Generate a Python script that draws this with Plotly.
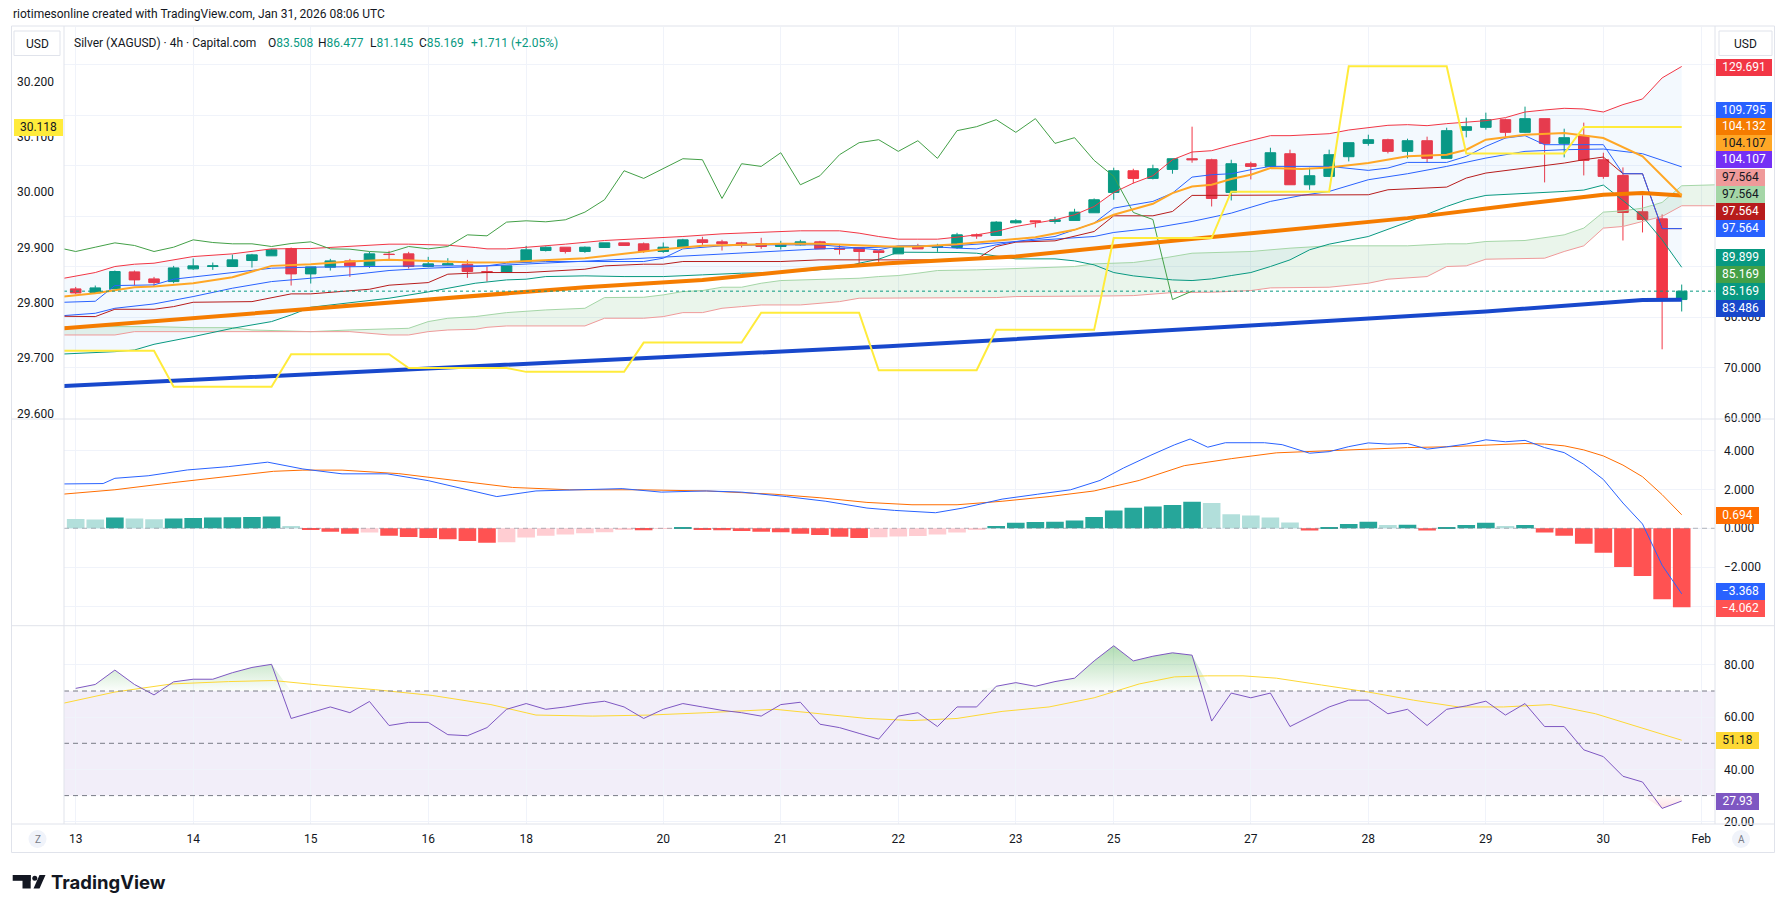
import plotly.graph_objects as go

# ======================= DATA =======================
date_tick_idx = [0, 6, 12, 18, 23, 30, 36, 42, 48, 53, 60, 66, 72, 78, 83]
date_tick_txt = ["13", "14", "15", "16", "18", "20", "21", "22", "23", "25", "27", "28", "29", "30", "Feb"]

bar_idx = list(range(83))
open_ = [85.62, 84.82, 85.62, 88.99, 87.60, 87.07, 89.59, 90.05, 90.05, 91.24,
         92.17, 93.62, 88.59, 89.92, 91.17, 90.18, 92.50, 92.56, 90.05, 90.38,
         90.51, 89.06, 88.99, 90.97, 93.22, 93.88, 93.03, 93.82, 94.74, 94.55,
         93.03, 93.82, 95.34, 94.94, 94.74, 94.61, 94.02, 94.35, 94.94, 93.69,
         93.82, 93.16, 92.56, 94.02, 93.82, 93.82, 96.33, 96.20, 98.71, 99.11,
         98.98, 99.18, 100.70, 104.73, 109.03, 107.51, 109.30, 111.41, 111.21, 104.73,
         110.42, 109.89, 112.40, 106.25, 107.91, 111.81, 114.45, 115.18, 112.87, 114.98,
         111.48, 117.03, 117.63, 119.15, 116.64, 119.35, 114.45, 115.98, 111.21, 108.10,
         100.90, 99.51, 83.508]
high = [86.01, 86.28, 89.26, 89.26, 88.00, 90.18, 91.64, 90.84, 92.43, 92.56,
        93.55, 93.82, 89.98, 91.57, 91.57, 92.96, 93.16, 92.96, 91.97, 91.70,
        91.37, 90.05, 90.18, 94.15, 94.02, 93.88, 94.02, 94.74, 94.74, 94.81,
        94.81, 95.54, 95.94, 95.34, 94.94, 95.74, 95.14, 95.34, 95.14, 94.35,
        93.82, 93.16, 94.15, 94.55, 94.55, 96.73, 96.60, 99.04, 99.44, 99.11,
        99.90, 101.49, 103.54, 109.63, 109.43, 110.22, 111.41, 117.76, 111.41, 111.21,
        110.82, 113.59, 113.20, 109.63, 113.20, 114.59, 116.17, 115.38, 115.38, 115.78,
        117.56, 119.55, 120.54, 119.35, 121.73, 119.35, 117.36, 118.56, 112.60, 109.69,
        104.14, 100.37, 86.477]
low = [84.56, 84.82, 85.62, 86.35, 86.01, 86.74, 89.39, 89.39, 90.05, 89.85,
       92.17, 86.28, 86.68, 89.26, 88.00, 89.78, 91.37, 89.65, 89.92, 90.38,
       87.80, 87.07, 88.86, 90.97, 93.03, 92.63, 92.76, 93.82, 94.22, 92.76,
       92.76, 93.82, 94.35, 93.22, 93.82, 93.55, 93.42, 94.22, 93.55, 92.43,
       90.38, 90.97, 92.56, 93.55, 92.96, 93.55, 95.54, 96.20, 98.58, 97.79,
       98.51, 99.18, 100.70, 103.28, 106.52, 107.31, 108.44, 110.62, 101.95, 103.14,
       107.31, 109.89, 106.25, 105.26, 107.77, 110.88, 113.99, 112.47, 111.48, 110.62,
       111.48, 115.65, 117.17, 115.45, 116.50, 106.72, 111.68, 108.10, 107.44, 95.21,
       96.80, 73.65, 81.145]
close = [84.82, 85.82, 89.06, 87.40, 86.87, 89.78, 90.18, 90.18, 91.37, 92.36,
         93.36, 88.59, 89.98, 91.17, 90.18, 92.56, 92.43, 90.05, 90.58, 90.58,
         89.06, 88.93, 90.18, 93.36, 93.88, 93.03, 93.88, 94.74, 94.22, 93.03,
         93.88, 95.34, 94.81, 94.55, 94.55, 94.02, 94.61, 94.94, 93.55, 93.49,
         93.03, 92.83, 94.02, 93.55, 94.02, 96.33, 96.13, 98.85, 99.11, 98.91,
         99.31, 100.83, 103.28, 109.03, 107.51, 109.43, 111.41, 111.21, 103.54, 110.42,
         109.89, 112.60, 106.25, 108.04, 112.21, 114.59, 115.18, 112.87, 114.98, 111.48,
         116.97, 117.76, 119.15, 116.64, 119.35, 114.45, 115.58, 111.08, 107.91, 100.76,
         99.37, 83.51, 85.169]

# Bollinger bands
bbu_x = [-0.6, 1, 2, 3, 4, 6, 8, 10, 12, 14, 16, 17, 19, 20.4,
         21, 22, 23, 25, 27, 29, 31, 33, 35, 37, 39, 40, 41,
         42, 43, 44, 45, 46, 47, 48, 49, 50, 51, 52, 53, 54, 55, 56, 57, 58, 59, 60, 61, 62,
         63, 64, 65, 66, 67, 68, 69, 70, 71, 72, 73, 74, 75, 76, 77, 78, 79, 80, 81, 82]
bbu_y = [87.73, 88.86, 90.05, 90.51, 90.71, 92.03, 92.56, 93.55, 93.62, 94.02, 94.48, 94.48, 94.28, 93.82,
         93.55, 93.55, 93.82, 94.48, 95.21, 95.54, 96.00, 96.53, 96.86, 97.13, 97.13, 96.66, 96.00,
         95.47, 95.47, 95.47, 95.87, 96.33, 96.99, 97.99, 98.65, 99.31, 100.30, 101.95, 104.73, 106.58,
         108.04, 111.21, 112.74, 113.00, 114.06, 115.05, 115.98, 115.98,
         116.11, 116.37, 117.10, 117.56, 118.03, 118.16, 117.96, 118.36, 118.62, 118.95, 119.55, 120.67,
         121.07, 121.40, 121.27, 120.67, 122.13, 123.25, 127.42, 129.69]
bbl_x = [-0.6, 2, 3, 4, 6, 8, 10, 11, 12, 14, 16, 18, 20.4,
         22, 23, 24, 26, 28, 30, 32, 34, 36, 38, 39, 40, 41,
         42, 43, 44, 45, 46, 47, 48, 50, 51, 52, 53, 54, 55, 56, 57, 58, 59, 60, 61, 62,
         63, 64, 66, 68, 70, 71, 72, 74, 76, 77, 78, 79, 80, 81, 82]
bbl_y = [72.72, 73.18, 73.51, 74.64, 76.16, 77.81, 79.14, 80.46, 81.98, 82.91, 83.77, 85.02, 86.74,
         87.40, 87.54, 88.06, 88.20, 88.06, 88.06, 88.40, 88.73, 88.86, 89.39, 89.72, 90.71, 91.50,
         92.89, 92.89, 92.83, 92.83, 92.69, 92.17, 91.57, 91.57, 91.17, 90.38, 88.86, 88.20, 87.73,
         87.40, 87.27, 87.60, 88.26, 88.86, 90.05, 91.37,
         93.36, 94.48, 96.00, 98.85, 101.95, 103.28, 104.14, 104.47, 104.93, 105.20, 106.19, 103.14,
         99.97, 95.34, 89.90]
bbm_x = [-0.6, 1, 2, 4, 6, 8, 10, 12, 14, 16, 18, 20.4,
         22, 24, 26, 28, 30, 32, 34, 36, 38, 40,
         41.5, 43, 45, 46, 48, 50, 52, 53, 55, 57, 59, 61, 62.6,
         64, 66, 68, 70, 72, 74, 76, 78, 80, 82]
bbm_y = [80.33, 80.79, 81.78, 82.64, 84.10, 85.75, 87.07, 87.73, 88.40, 89.26, 89.72, 90.05,
         90.38, 90.84, 91.11, 91.50, 91.90, 92.36, 92.69, 93.16, 93.55, 93.75,
         94.02, 94.15, 94.22, 94.48, 95.01, 95.47, 96.00, 96.80, 97.66, 98.98, 100.63, 102.95, 104.14,
         104.93, 107.25, 108.44, 109.89, 111.54, 112.87, 113.20, 113.33, 112.40, 109.80]

# Ichimoku
tenkan_x = [-0.6, 1, 2, 4, 5, 8, 10, 12, 14, 16, 18,
            21, 22, 24, 29, 30, 31, 33, 35, 38, 39, 40, 41,
            42, 43, 45, 46, 47, 48, 50, 52, 53, 55, 56, 57, 58, 59, 60, 61,
            64, 65, 66, 67, 68, 70, 71, 72, 73, 74, 75, 78, 79, 80, 81, 82]
tenkan_y = [82.97, 83.17, 86.28, 86.41, 87.54, 88.86, 89.72, 89.92, 90.05, 90.05, 90.18,
            90.18, 90.71, 91.04, 91.04, 91.70, 93.55, 94.15, 94.35, 94.35, 94.02, 93.55, 93.36,
            94.15, 94.15, 93.69, 93.55, 94.35, 95.01, 96.00, 98.65, 101.62, 102.95, 104.60, 107.77,
            108.24, 108.44, 109.23, 109.89,
            109.89, 109.56, 109.10, 109.56, 110.68, 110.68, 111.88, 113.86, 115.51, 115.98, 114.19,
            114.19, 108.44, 108.44, 97.564, 97.564]
kijun_x = [-0.6, 1, 2, 4, 5, 6, 9, 11, 12, 15, 16, 18, 19,
           21, 23, 25, 26, 27, 29, 30, 31, 36, 38,
           45, 46, 47, 48, 50, 52, 53, 55, 56, 57,
           66, 67, 70, 71, 72, 74, 76, 77, 78, 79, 80, 81, 82]
kijun_y = [80.19, 80.13, 81.58, 81.58, 82.11, 82.97, 83.10, 84.63, 84.63, 85.55, 86.35, 86.87, 88.53,
           88.86, 88.86, 89.39, 89.52, 90.18, 90.51, 90.51, 91.04, 91.04, 91.37,
           91.37, 91.50, 94.02, 94.88, 95.14, 96.99, 100.10, 100.10, 100.96, 104.14,
           104.27, 105.26, 105.79, 107.58, 108.57, 109.56, 110.55, 111.21, 111.74, 108.44, 108.44,
           97.564, 97.564]
spanA_x = [-0.6, 4, 6, 8, 9, 12, 14, 17, 18, 19, 20.4,
           21, 22, 24, 25, 26, 27, 29, 30, 31, 32, 33, 34, 35, 36, 38, 40, 41,
           42, 43, 44, 46, 47, 48, 50, 51, 52, 54, 55, 56, 57, 60, 62,
           64, 68, 70, 71, 72, 74, 76, 77, 78, 79, 80, 81, 82, 83.8]
spanA_y = [78.14, 78.14, 77.94, 77.94, 77.48, 77.15, 77.48, 77.81, 79.14, 79.80, 80.13,
           80.46, 80.92, 81.45, 81.58, 81.78, 83.90, 83.96, 84.43, 85.09, 85.29, 85.95, 85.95, 86.74,
           87.27, 87.54, 87.73, 88.06,
           88.26, 88.73, 89.26, 89.39, 89.52, 89.72, 89.92, 90.05, 90.58, 90.84, 91.37, 92.03, 92.69,
           93.03, 93.69,
           94.15, 94.15, 94.55, 94.55, 95.01, 95.21, 96.33, 97.66, 100.83, 101.09, 101.62, 102.75,
           106.05, 106.25]
spanB_x = [-0.6, 2, 3, 9, 12, 14, 16, 17, 18, 19, 20.4,
           21, 22, 26, 27, 29, 30, 31, 32, 33, 34, 35, 37, 38, 39, 40,
           47, 48, 51, 52, 53, 54, 55, 56, 58, 59, 60, 61,
           64, 66, 67, 69, 70, 71, 72, 75, 76, 77, 78, 79, 80, 81, 82, 83.8]
spanB_y = [76.49, 76.49, 77.15, 77.15, 77.02, 77.15, 76.49, 76.49, 77.15, 77.48, 77.61,
           78.01, 78.28, 78.28, 79.80, 79.80, 80.13, 80.92, 80.92, 81.78, 82.11, 82.44, 82.44, 82.77,
           83.10, 83.77,
           83.90, 84.10, 84.10, 84.23, 84.23, 84.29, 84.56, 84.89, 84.96, 85.09, 85.29, 85.82,
           85.95, 86.74, 87.54, 88.06, 90.05, 90.18, 91.50, 91.70, 93.03, 94.15, 97.66, 97.99, 98.98,
           99.97, 102.09, 102.09]
lag_shift = 25

# Moving averages
ma_thick_or_x = [-0.6, 6, 12, 20.3, 26, 32, 38, 41.5, 48, 53, 59, 62.6, 68, 74, 78, 80, 82]
ma_thick_or_y = [77.81, 79.80, 81.78, 84.23, 85.95, 87.40, 89.72, 90.71, 92.03, 94.02, 96.33, 97.52,
                 99.64, 102.48, 104.27, 104.60, 104.13]
ma_thick_bl_x = [-0.6, 20.3, 41.5, 62.6, 72, 80, 82]
ma_thick_bl_y = [66.37, 70.27, 74.24, 78.94, 81.12, 83.43, 83.49]
ma_thin_or_x = [-0.6, 1, 3, 4, 6, 8, 10, 12, 14, 16, 18, 20.4,
                22, 24, 26, 28, 30, 32, 34, 36, 38, 40,
                41.5, 43, 45, 47, 49, 51, 52, 53, 55, 56, 57, 58, 59, 60, 61, 62.6,
                64, 66, 68, 70, 71, 72, 74, 76, 77, 78, 80, 82]
ma_thin_or_y = [84.10, 84.76, 85.95, 86.08, 86.74, 87.93, 90.18, 90.51, 91.04, 91.37, 91.17, 90.84,
                90.91, 91.37, 91.70, 92.56, 93.49, 94.15, 94.41, 94.55, 94.55, 94.28,
                94.02, 94.02, 94.48, 95.14, 95.87, 97.32, 98.65, 100.30, 102.48, 104.60, 105.92,
                106.25, 107.38, 108.24, 109.56, 109.36,
                109.69, 110.55, 111.88, 112.21, 113.20, 115.18, 116.17, 116.50, 115.98, 115.51,
                111.88, 104.107]

# Yellow step series on the left scale (one level per session)
yellow_levels = [29.713, 29.648, 29.707, 29.682, 29.675, 29.728, 29.782, 29.678, 29.751,
                 29.917, 30.001, 30.228, 30.070, 30.118]
yellow_first_bar = [-1, 5, 11, 17, 23, 29, 35, 41, 47, 53, 59, 65, 71, 77]

# MACD
macd_x = [-0.7, 1.4, 2.0, 3.7, 5.7, 7.8, 9.8, 11.6, 13.6, 15.9,
          18.0, 20.0, 21.5, 23.5, 25.8, 27.9, 29.9, 32.2, 34.0, 36.3,
          38.3, 40.4, 41.8, 43.9, 45.3, 47.3, 49.1, 50.8, 52.3, 53.5,
          54.9, 56.1, 56.9, 57.8, 58.7, 60.7, 61.6, 63, 64, 65,
          66, 67, 68, 69, 70, 71, 72, 73, 74, 75,
          76, 77, 78, 79, 80, 81, 82]
macd_y = [2.28, 2.30, 2.57, 2.70, 3.00, 3.17, 3.40, 3.05, 2.80, 2.80,
          2.45, 1.98, 1.63, 1.92, 1.98, 2.04, 1.86, 1.92, 1.86, 1.63,
          1.39, 1.04, 0.92, 0.80, 1.04, 1.50, 1.75, 1.98, 2.46, 3.10,
          3.76, 4.29, 4.59, 4.17, 4.40, 4.40, 4.30, 3.86, 3.94, 4.20,
          4.39, 4.33, 4.36, 4.07, 4.19, 4.33, 4.55, 4.45, 4.52, 4.15,
          3.89, 3.29, 2.51, 1.30, 0.22, -1.90, -3.368]
signal_x = [-0.7, 2.0, 4.9, 7.8, 10.1, 11.6, 13.6, 16.5, 19.4, 22.3,
            25.2, 28.7, 32.2, 35.7, 38.0, 40.4, 42.7, 45.0, 47.3, 49.7,
            52.0, 54.3, 56.6, 59.0, 61.3, 63, 65, 66, 68, 70,
            72, 74, 75, 76, 77, 78, 79, 80, 81, 82]
signal_y = [1.75, 1.98, 2.34, 2.69, 2.93, 2.99, 2.99, 2.81, 2.46, 2.10,
            1.98, 1.98, 1.92, 1.75, 1.57, 1.33, 1.21, 1.21, 1.39, 1.63,
            1.92, 2.46, 3.22, 3.58, 3.88, 3.95, 4.01, 4.07, 4.15, 4.19,
            4.29, 4.36, 4.33, 4.24, 4.03, 3.72, 3.25, 2.65, 1.73, 0.694]
hist_before_first = 0.52
hist = [0.48, 0.45, 0.55, 0.50, 0.46, 0.50, 0.53, 0.55, 0.57, 0.58,
        0.60, 0.12, -0.08, -0.18, -0.28, -0.22, -0.38, -0.45, -0.50, -0.56,
        -0.65, -0.75, -0.72, -0.48, -0.38, -0.32, -0.26, -0.20, -0.06, -0.10,
        -0.03, 0.04, -0.04, -0.10, -0.14, -0.18, -0.20, -0.28, -0.34, -0.44,
        -0.50, -0.46, -0.42, -0.40, -0.32, -0.22, -0.08, 0.12, 0.28, 0.32,
        0.34, 0.40, 0.58, 0.92, 1.05, 1.12, 1.20, 1.36, 1.30, 0.72,
        0.66, 0.55, 0.30, -0.12, 0.03, 0.22, 0.33, 0.17, 0.18, -0.12,
        0.07, 0.17, 0.28, 0.12, 0.17, -0.22, -0.38, -0.80, -1.26, -1.99,
        -2.46, -3.65, -4.062]

# RSI
rsi = [71.0, 72.5, 78.0, 72.5, 68.5, 73.5, 74.5, 74.5, 77.0, 79.0,
       80.2, 59.5, 61.7, 63.9, 61.7, 66.0, 56.8, 58.0, 58.0, 53.3,
       52.9, 56.0, 63.0, 65.2, 63.0, 63.9, 65.2, 66.1, 63.9, 59.5,
       63.0, 65.2, 63.9, 62.6, 61.7, 60.4, 64.8, 65.7, 57.3, 56.0,
       53.8, 51.6, 60.4, 61.7, 56.4, 63.9, 63.9, 71.8, 73.2, 71.8,
       73.6, 74.9, 81.5, 87.3, 81.5, 83.3, 84.6, 83.7, 58.5, 69.2,
       67.4, 69.2, 56.4, 60.0, 63.9, 66.5, 66.5, 61.3, 63.0, 56.8,
       63.0, 64.3, 66.1, 60.8, 65.2, 56.4, 56.4, 47.5, 44.9, 37.4,
       35.2, 25.1, 27.93]
rsi_ma_x = [-0.7, 2.0, 4.9, 7.8, 10.1, 12.4, 15.3, 18.2, 21.2, 23.5,
            26.4, 29.3, 32.2, 35.7, 38.0, 40.4, 42.7, 45.0, 47.3, 49.7,
            52.0, 54.3, 56.1, 57.8, 59.6, 61.3, 63.6, 66.0, 68.3, 70.6,
            72.9, 75.3, 77.6, 79.9, 82.0]
rsi_ma_y = [65.2, 69.6, 72.7, 73.6, 74.0, 72.3, 70.5, 68.3, 64.8, 60.8,
            60.4, 60.8, 61.7, 63.0, 61.3, 59.5, 58.7, 59.5, 62.2, 63.9,
            67.4, 72.7, 75.4, 75.8, 75.8, 74.9, 72.3, 69.6, 66.5, 63.9,
            63.9, 64.8, 61.3, 56.0, 51.18]

# price-scale ticks; labels that the value tags cover in the reference are left blank
main_ticks = [60, 70, 80, 90, 100, 110, 120, 130]
main_tick_txt = ["60.000", "70.000", "80.000", "", "", "", "", ""]
left_ticks = [29.6, 29.7, 29.8, 29.9, 30.0, 30.1, 30.2]
macd_ticks = [-4, -2, 0, 2, 4]
macd_tick_txt = ["", "\u22122.000", "0.000", "2.000", "4.000"]
rsi_ticks = [20, 40, 60, 80]

# value tags on the right price scales: (text, background, text colour, centre y px, width)
main_tags = [("129.691", "#f23645", "#ffffff", 67.5, 56),
             ("109.795", "#2962ff", "#ffffff", 110.0, 56),
             ("104.132", "#f57c00", "#ffffff", 126.7, 56),
             ("104.107", "#ffa726", "#131722", 143.3, 56),
             ("104.107", "#7430f5", "#ffffff", 160.0, 56),
             ("97.564", "#ef9a9a", "#131722", 177.7, 49),
             ("97.564", "#a5d6a7", "#131722", 194.3, 49),
             ("97.564", "#b71c1c", "#ffffff", 211.7, 49),
             ("97.564", "#2962ff", "#ffffff", 228.3, 49),
             ("89.899", "#089981", "#ffffff", 257.5, 49),
             ("85.169", "#43a047", "#ffffff", 274.0, 49),
             ("85.169", "#089981", "#ffffff", 291.0, 49),
             ("83.486", "#1848cc", "#ffffff", 308.0, 49)]
macd_tags = [("0.694", "#ff6d00", "#ffffff", 515.7, 43),
             ("\u22123.368", "#2962ff", "#ffffff", 591.7, 49),
             ("\u22124.062", "#ff5252", "#ffffff", 608.3, 49)]
rsi_tags = [("51.18", "#fdd835", "#131722", 740.7, 43),
            ("27.93", "#7e57c2", "#ffffff", 801.7, 43)]
last_price = 85.169

# ======================= LAYOUT GEOMETRY =======================
FONT = "Roboto, Arial, sans-serif"
TXT = "#131722"
GRID = "#f0f3fa"
BORDER = "#e0e3eb"
W, H = 1787, 913
PL, PR, PT, PB = 64, 1715, 27, 824
MAIN_BOTTOM, MACD_BOTTOM = 419, 625.7


def px(x):
    return (x - PL) / (PR - PL)


def py(y):
    return (PB - y) / (PB - PT)


X_RANGE = [-0.597, 83.70]
MAIN_RANGE = [59.84, 137.51]
LEFT_RANGE = [29.5897, 30.299]
MACD_RANGE = [-5.01, 5.62]
RSI_RANGE = [19.14, 94.97]

fig = go.Figure()


def line(x, y, color, width=1, xa="x", ya="y", dash=None):
    fig.add_trace(go.Scatter(x=x, y=y, mode="lines", xaxis=xa, yaxis=ya, hoverinfo="skip",
                             line=dict(color=color, width=width, dash=dash)))


# ---- main pane ----
fig.add_trace(go.Scatter(x=bbu_x + bbl_x[::-1], y=bbu_y + bbl_y[::-1], fill="toself",
                         fillcolor="rgba(33,150,243,0.055)", line=dict(width=0), mode="lines",
                         hoverinfo="skip"))
fig.add_trace(go.Scatter(x=spanA_x + spanB_x[::-1], y=spanA_y + spanB_y[::-1], fill="toself",
                         fillcolor="rgba(67,160,71,0.11)", line=dict(width=0), mode="lines",
                         hoverinfo="skip"))
line(spanA_x, spanA_y, "#a5d6a7", 1)
line(spanB_x, spanB_y, "#ef9a9a", 1)
line(bbu_x, bbu_y, "#f23645", 1)
line(bbl_x, bbl_y, "#089981", 1)
line(bbm_x, bbm_y, "#2962ff", 1)
line(kijun_x, kijun_y, "#b71c1c", 1)
line(tenkan_x, tenkan_y, "#2962ff", 1)
lag_x = [i - lag_shift for i in range(lag_shift - 1, len(close))]
lag_y = close[lag_shift - 1:]
line(lag_x, lag_y, "#43a047", 1)
line(ma_thick_bl_x, ma_thick_bl_y, "#1848cc", 4)
line(ma_thick_or_x, ma_thick_or_y, "#f57c00", 4)
line(ma_thin_or_x, ma_thin_or_y, "#ffa726", 2)

fig.add_trace(go.Candlestick(
    x=bar_idx, open=open_, high=high, low=low, close=close, whiskerwidth=0,
    increasing=dict(line=dict(color="#089981", width=1), fillcolor="#089981"),
    decreasing=dict(line=dict(color="#f23645", width=1), fillcolor="#f23645"),
    hoverinfo="skip", xaxis="x", yaxis="y"))

yel_x, yel_y = [], []
for b in range(-1, len(close)):
    lvl = None
    for s, v in zip(yellow_first_bar, yellow_levels):
        if b >= s:
            lvl = v
    yel_x.append(b)
    yel_y.append(lvl)
line(yel_x, yel_y, "#ffeb3b", 2, "x", "y4")

# ---- MACD pane ----
hist_colors = []
prev = hist_before_first
for h in hist:
    if h >= 0:
        hist_colors.append("#26a69a" if h > prev else "#b2dfdb")
    else:
        hist_colors.append("#ff5252" if h < prev else "#ffcdd2")
    prev = h
fig.add_trace(go.Bar(x=bar_idx, y=hist, marker=dict(color=hist_colors, line=dict(width=0)),
                     width=0.9, xaxis="x2", yaxis="y2", hoverinfo="skip"))
line(signal_x, signal_y, "#ff6d00", 1, "x2", "y2")
line(macd_x, macd_y, "#2962ff", 1, "x2", "y2")

# ---- RSI pane ----
fig.add_trace(go.Scatter(x=bar_idx, y=[70] * len(rsi), mode="lines", line=dict(width=0),
                         xaxis="x3", yaxis="y3", hoverinfo="skip"))
fig.add_trace(go.Scatter(x=bar_idx, y=[max(v, 70) for v in rsi], mode="lines", line=dict(width=0),
                         fill="tonexty", xaxis="x3", yaxis="y3", hoverinfo="skip",
                         fillgradient=dict(type="vertical", start=70, stop=92,
                                           colorscale=[[0, "rgba(76,175,80,0.02)"],
                                                       [1, "rgba(76,175,80,0.55)"]])))
fig.add_trace(go.Scatter(x=bar_idx, y=[30] * len(rsi), mode="lines", line=dict(width=0),
                         xaxis="x3", yaxis="y3", hoverinfo="skip"))
fig.add_trace(go.Scatter(x=bar_idx, y=[min(v, 30) for v in rsi], mode="lines", line=dict(width=0),
                         fill="tonexty", xaxis="x3", yaxis="y3", hoverinfo="skip",
                         fillgradient=dict(type="vertical", start=10, stop=30,
                                           colorscale=[[0, "rgba(242,54,69,0.55)"],
                                                       [1, "rgba(242,54,69,0.02)"]])))
line(rsi_ma_x, rsi_ma_y, "#fdd835", 1, "x3", "y3")
line(bar_idx, rsi, "#7e57c2", 1, "x3", "y3")

# ======================= AXES =======================
common_x = dict(range=X_RANGE, tickvals=date_tick_idx, showgrid=True, gridcolor=GRID,
                zeroline=False, showline=False, ticks="", fixedrange=True)
tickfont = dict(family=FONT, size=12, color=TXT)


def yax(dom, rng, vals, texts, **kw):
    d = dict(domain=dom, range=rng, side="right", tickvals=vals, ticktext=texts, showgrid=True,
             gridcolor=GRID, zeroline=False, showline=False, ticks="", tickfont=tickfont,
             ticklabelstandoff=8, fixedrange=True)
    d.update(kw)
    return d


fig.update_layout(
    width=W, height=H, margin=dict(l=PL, r=W - PR, t=PT, b=H - PB, pad=0),
    paper_bgcolor="#ffffff", plot_bgcolor="#ffffff", showlegend=False, boxgap=0.23,
    font=dict(family=FONT, color=TXT, size=12), bargap=0.1,
    xaxis=dict(**common_x, anchor="y", showticklabels=False, rangeslider=dict(visible=False)),
    xaxis2=dict(**common_x, anchor="y2", showticklabels=False),
    xaxis3=dict(**common_x, anchor="y3", showticklabels=True, ticktext=date_tick_txt,
                tickfont=tickfont, ticklabelstandoff=6),
    yaxis=yax([py(MAIN_BOTTOM), 1], MAIN_RANGE, main_ticks, main_tick_txt, anchor="x"),
    yaxis4=dict(overlaying="y", side="left", anchor="x", range=LEFT_RANGE, tickvals=left_ticks,
                ticktext=[f"{v:.3f}" for v in left_ticks], showgrid=False, zeroline=False,
                ticks="", tickfont=tickfont, ticklabelstandoff=9, fixedrange=True),
    yaxis2=yax([py(MACD_BOTTOM), py(MAIN_BOTTOM)], MACD_RANGE, macd_ticks, macd_tick_txt,
               anchor="x2"),
    yaxis3=yax([0, py(MACD_BOTTOM)], RSI_RANGE, rsi_ticks, [f"{v:.2f}" for v in rsi_ticks],
               anchor="x3"),
)

# ======================= SHAPES =======================
shapes = []


def seg(x0, y0, x1, y1, color=BORDER, width=1):
    shapes.append(dict(type="line", xref="paper", yref="paper", x0=px(x0), y0=py(y0),
                       x1=px(x1), y1=py(y1), line=dict(color=color, width=width)))


# RSI band & reference lines
shapes.append(dict(type="rect", xref="x3 domain", yref="y3", x0=0, x1=1, y0=30, y1=70,
                   fillcolor="rgba(126,87,194,0.1)", line=dict(width=0), layer="below"))
for lv in (70, 50, 30):
    shapes.append(dict(type="line", xref="x3 domain", yref="y3", x0=0, x1=1, y0=lv, y1=lv,
                       line=dict(color="#787b86", width=1, dash="5px,4px")))
shapes.append(dict(type="line", xref="x2 domain", yref="y2", x0=0, x1=1, y0=0, y1=0,
                   line=dict(color="rgba(120,123,134,0.55)", width=1, dash="5px,4px")))
shapes.append(dict(type="line", xref="x domain", yref="y", x0=0, x1=1, y0=last_price,
                   y1=last_price, line=dict(color="#089981", width=1, dash="dot")))

# frame and pane separators
seg(11.5, 26, 1774.5, 26)
seg(11.5, 852.5, 1774.5, 852.5)
seg(11.5, 26, 11.5, 852.5)
seg(1774.5, 26, 1774.5, 852.5)
seg(11.5, MAIN_BOTTOM, 1774.5, MAIN_BOTTOM)
seg(11.5, MACD_BOTTOM, 1774.5, MACD_BOTTOM)
seg(11.5, PB, 1774.5, PB)
seg(PL, 26, PL, PB)
seg(PR, 26, PR, PB)

# USD boxes
for (x0, x1) in ((14, 60), (1719, 1772)):
    shapes.append(dict(type="rect", xref="paper", yref="paper", x0=px(x0), x1=px(x1),
                       y0=py(55.5), y1=py(31), line=dict(color=BORDER, width=1),
                       fillcolor="#ffffff"))

# Z / A buttons
for cx in (37.5, 1741):
    shapes.append(dict(type="circle", xref="paper", yref="paper", x0=px(cx - 9), x1=px(cx + 9),
                       y0=py(839 + 9), y1=py(839 - 9), line=dict(width=0), fillcolor="#f0f3fa"))

# TradingView logo mark
shapes.append(dict(type="rect", xref="paper", yref="paper", x0=px(12.7), x1=px(30.7),
                   y0=py(880.8), y1=py(875), line=dict(width=0), fillcolor="#131722"))
shapes.append(dict(type="rect", xref="paper", yref="paper", x0=px(22.5), x1=px(30.7),
                   y0=py(888.5), y1=py(875), line=dict(width=0), fillcolor="#131722"))
shapes.append(dict(type="circle", xref="paper", yref="paper", x0=px(32.3), x1=px(37.3),
                   y0=py(880.8), y1=py(875.8), line=dict(width=0), fillcolor="#131722"))
shapes.append(dict(type="path", xref="paper", yref="paper",
                   path=f"M {px(39.5)} {py(875)} L {px(45.5)} {py(875)} L {px(39.5)} {py(888.5)} "
                        f"L {px(33.5)} {py(888.5)} Z",
                   line=dict(width=0), fillcolor="#131722"))

# ======================= ANNOTATIONS =======================
anns = []


def txt(x, y, text, size=12, color=TXT, xanchor="left", family=FONT, **kw):
    anns.append(dict(xref="paper", yref="paper", x=px(x), y=py(y), xanchor=xanchor,
                     yanchor="middle", text=text, showarrow=False,
                     font=dict(family=family, size=size, color=color), **kw))


def tag(text, bg, fg, y, w, x=1716):
    anns.append(dict(xref="paper", yref="paper", x=px(x), y=py(y), xanchor="left",
                     yanchor="middle", text=text, showarrow=False, bgcolor=bg, borderwidth=0,
                     borderpad=0, width=w, height=16.5, align="center", valign="middle",
                     font=dict(family=FONT, size=12, color=fg)))


G = "#089981"
txt(11.4, 14, "riotimesonline created with TradingView.com, Jan 31, 2026 08:06 UTC", 12)
txt(37, 43.5, "USD", 12, xanchor="center")
txt(1745.5, 43.5, "USD", 12, xanchor="center")
txt(72, 43, "Silver (XAGUSD) \u00b7 4h \u00b7 Capital.com", 12)
txt(266, 43, f"O<span style='color:{G}'>83.508</span>", 12)
txt(316.4, 43, f"H<span style='color:{G}'>86.477</span>", 12)
txt(367.9, 43, f"L<span style='color:{G}'>81.145</span>", 12)
txt(417, 43, f"C<span style='color:{G}'>85.169</span>", 12)
txt(468.6, 43, "+1.711 (+2.05%)", 12, color=G)
txt(37.5, 839.5, "Z", 10, color="#787b86", xanchor="center")
txt(1741, 839.5, "A", 10, color="#787b86", xanchor="center")
txt(48.5, 882.5, "<b>TradingView</b>", 18.5, family="Inter, Roboto, sans-serif")

for t in main_tags + macd_tags + rsi_tags:
    tag(*t)
tag("30.118", "#ffeb3b", "#131722", 127.7, 49, x=14)

fig.update_layout(shapes=shapes, annotations=anns)
fig.write_html("out.html")
